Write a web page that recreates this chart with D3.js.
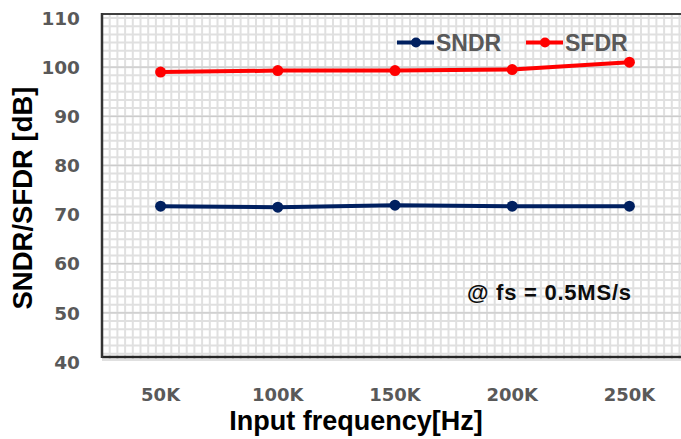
<!DOCTYPE html>
<html><head><meta charset="utf-8">
<script src="https://cdn.jsdelivr.net/npm/d3@7"></script>
<style>body{margin:0;background:#fff}svg{display:block}</style>
</head><body>
<svg id="c" width="681" height="439"></svg>
<script>
const categories = ["50K","100K","150K","200K","250K"];
const sndr = [71.7, 71.5, 71.9, 71.7, 71.7];
const sfdr = [99.0, 99.3, 99.3, 99.5, 101.0];
const yTicks = [40,50,60,70,80,90,100,110];
const seriesNames = ["SNDR","SFDR"];
const seriesColors = ["#002060","#ff0000"];

const W = 681, H = 439;
const svg = d3.select("#c");
const x = d3.scalePoint().domain(categories).range([102, 688]).padding(0.5);
const y = d3.scaleLinear().domain([40,110]).range([362, 18]);

const frameL = 102, frameR = 700, frameT = y(110.8), frameB = y(41);

// minor grid
const gx = d3.scaleLinear().domain([0, 78]).range([frameL, frameL + 78*7.7]);
const g = svg.append("g");
g.selectAll("line.vx").data(d3.range(1, 78)).join("line")
  .attr("x1", d => gx(d)).attr("x2", d => gx(d))
  .attr("y1", frameT).attr("y2", frameB + 3)
  .attr("stroke", "#e0e0e0").attr("stroke-width", 2);
const minorYs = d3.range(0, 43).map(i => 40 + i*10/6).filter(v => v > 41 && v < 110.8);
g.selectAll("line.hy").data(minorYs).join("line")
  .attr("x1", frameL).attr("x2", frameR)
  .attr("y1", d => y(d)).attr("y2", d => y(d))
  .attr("stroke", "#e0e0e0").attr("stroke-width", 2);
g.append("line").attr("x1", frameL).attr("x2", frameR).attr("y1", frameB+3).attr("y2", frameB+3)
  .attr("stroke", "#e0e0e0").attr("stroke-width", 2);
// major horizontal grid
g.selectAll("line.mj").data(yTicks.filter(v => v > 40 && v < 110)).join("line")
  .attr("x1", frameL).attr("x2", frameR)
  .attr("y1", d => y(d)).attr("y2", d => y(d))
  .attr("stroke", "#cccccc").attr("stroke-width", 1.2);

// frame
svg.append("line").attr("x1", frameL).attr("x2", frameR).attr("y1", frameT).attr("y2", frameT)
  .attr("stroke", "#404040").attr("stroke-width", 2);
svg.append("line").attr("x1", frameL).attr("x2", frameR).attr("y1", frameB).attr("y2", frameB)
  .attr("stroke", "#262626").attr("stroke-width", 2.5);
svg.append("line").attr("x1", frameL).attr("x2", frameL).attr("y1", frameT-1).attr("y2", frameB+1)
  .attr("stroke", "#333", ).attr("stroke-width", 2.5);

// y tick labels
svg.append("g").selectAll("text").data(yTicks).join("text")
  .attr("x", 80).attr("y", d => y(d)).attr("dy", "0.36em")
  .attr("text-anchor", "end")
  .attr("font-family", "DejaVu Sans").attr("font-weight", "bold").attr("font-size", 18.5)
  .attr("fill", "#595959").text(d => d);

// x tick labels
svg.append("g").selectAll("text").data(categories).join("text")
  .attr("x", d => x(d)).attr("y", 401)
  .attr("text-anchor", "middle")
  .attr("font-family", "DejaVu Sans").attr("font-weight", "bold").attr("font-size", 18)
  .attr("fill", "#595959").text(d => d);

// axis titles
svg.append("text").attr("x", 356).attr("y", 429.5).attr("text-anchor", "middle")
  .attr("font-family", "Liberation Sans, Arial").attr("font-weight", "bold").attr("font-size", 27)
  .attr("fill", "#000").text("Input frequency[Hz]");
svg.append("text").attr("transform", "translate(32,198) rotate(-90)").attr("text-anchor", "middle")
  .attr("font-family", "Liberation Sans, Arial").attr("font-weight", "bold").attr("font-size", 27.5)
  .attr("fill", "#000").text("SNDR/SFDR [dB]");

// series
const line = d3.line().x((d,i) => x(categories[i])).y(d => y(d));
[sndr, sfdr].forEach((s, k) => {
  svg.append("path").datum(s).attr("d", line).attr("fill", "none")
    .attr("stroke", seriesColors[k]).attr("stroke-width", 4).attr("stroke-linejoin", "round");
  svg.append("g").selectAll("circle").data(s).join("circle")
    .attr("cx", (d,i) => x(categories[i])).attr("cy", d => y(d)).attr("r", 5.5)
    .attr("fill", seriesColors[k]);
});

// legend
const legX = [397, 526];
seriesNames.forEach((n, k) => {
  const lg = svg.append("g").attr("transform", `translate(${legX[k]},42.5)`);
  lg.append("line").attr("x1", 0).attr("x2", 37).attr("stroke", seriesColors[k]).attr("stroke-width", 4);
  lg.append("circle").attr("cx", 19).attr("r", 5).attr("fill", seriesColors[k]);
  lg.append("text").attr("x", 39).attr("y", 8.2)
    .attr("font-family", "Liberation Sans, Arial").attr("font-weight", "bold").attr("font-size", 23)
    .attr("fill", "#595959").text(n);
});

// annotation
svg.append("text").attr("x", 467).attr("y", 300)
  .attr("font-family", "Liberation Sans, Arial").attr("font-weight", "bold").attr("font-size", 22)
  .attr("textLength", 164).attr("lengthAdjust", "spacing")
  .attr("fill", "#0d0d0d").text("@ fs = 0.5MS/s");
</script>
</body></html>
